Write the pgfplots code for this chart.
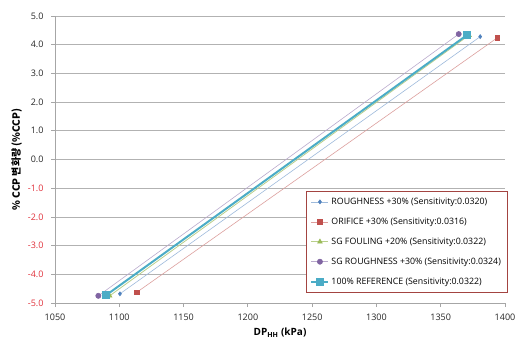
\documentclass[border=0pt]{standalone}
\usepackage{fontspec}
\setmainfont{Open Sans}
\newfontfamily\kr{Noto Sans CJK KR}
\usepackage{pgfplots}
\pgfplotsset{compat=1.18}
\definecolor{cblue}{HTML}{4F81BD}
\definecolor{cred}{HTML}{C0504D}
\definecolor{cgreen}{HTML}{9BBB59}
\definecolor{cpurple}{HTML}{8064A2}
\definecolor{cteal}{HTML}{4BACC6}
\definecolor{negred}{HTML}{E0303A}
\begin{document}
\begin{tikzpicture}[x=1pt,y=1pt]
\path[use as bounding box] (0,0) rectangle (516,343);
\begin{axis}[
  at={(55pt,40pt)}, anchor=south west,
  scale only axis, width=450pt, height=287pt,
  xmin=1050, xmax=1400, ymin=-5, ymax=5,
  xtick={1050,1100,1150,1200,1250,1300,1350,1400},
  xticklabels={1050,1100,1150,1200,1250,1300,1350,1400},
  ytick={-5,-4,-3,-2,-1,0,1,2,3,4,5},
  yticklabels={\textcolor{negred}{-5.0},\textcolor{negred}{-4.0},\textcolor{negred}{-3.0},\textcolor{negred}{-2.0},\textcolor{negred}{-1.0},0.0,1.0,2.0,3.0,4.0,5.0},
  axis lines*=left,
  axis line style={black!35, line width=0.8pt},
  ymajorgrids, grid style={black!30, line width=0.8pt},
  tick style={black!35, line width=0.8pt},
  tick align=outside, major tick length=4pt,
  xtick pos=bottom, ytick pos=left,
  tick label style={font=\fontsize{9}{10}\selectfont, color=black!85},
  yticklabel style={xshift=-4pt},
  xticklabel style={yshift=-3pt},
  xlabel={\bfseries DP\textsubscript{HH} (kPa)},
  xlabel style={font=\fontsize{10}{12}\selectfont, yshift=-1pt},
  ylabel={\kr\bfseries \% CCP 변화량 (\%CCP)},
  ylabel style={font=\fontsize{10}{12}\selectfont, yshift=-1pt},
  legend cell align=left,
  legend style={at={(rel axis cs:0.558,0.035)}, anchor=south west,
    draw=cred!85!black, fill=white, line width=0.6pt,
    font=\fontsize{8.8}{10}\selectfont, row sep=8pt,
    inner xsep=4pt, inner ysep=5pt},
]
\addplot[color=cblue!55!white, line width=0.6pt, mark=diamond*, mark size=2pt, mark options={fill=cblue, draw=cblue}]
  coordinates {(1100.5,-4.68) (1380.7,4.28)};
\addlegendentry{ROUGHNESS +30\% (Sensitivity:0.0320)}
\addplot[color=cred!55!white, line width=0.6pt, mark=square*, mark size=2.2pt, mark options={fill=cred, draw=cred}]
  coordinates {(1113.5,-4.63) (1394,4.24)};
\addlegendentry{ORIFICE +30\% (Sensitivity:0.0316)}
\addplot[color=cgreen!70!white, line width=0.8pt, mark=triangle*, mark size=2.5pt, mark options={fill=cgreen, draw=cgreen}]
  coordinates {(1092.5,-4.75) (1372,4.33)};
\addlegendentry{SG FOULING +20\% (Sensitivity:0.0322)}
\addplot[color=cpurple!55!white, line width=0.6pt, mark=*, mark size=2.6pt, mark options={fill=cpurple, draw=cpurple}]
  coordinates {(1083.7,-4.75) (1364,4.37)};
\addlegendentry{SG ROUGHNESS +30\% (Sensitivity:0.0324)}
\addplot[color=cteal, line width=2pt, mark=square*, mark size=3pt, mark options={fill=cteal, draw=cteal}]
  coordinates {(1090,-4.72) (1370.6,4.34)};
\addlegendentry{100\% REFERENCE (Sensitivity:0.0322)}
\end{axis}
\end{tikzpicture}
\end{document}
